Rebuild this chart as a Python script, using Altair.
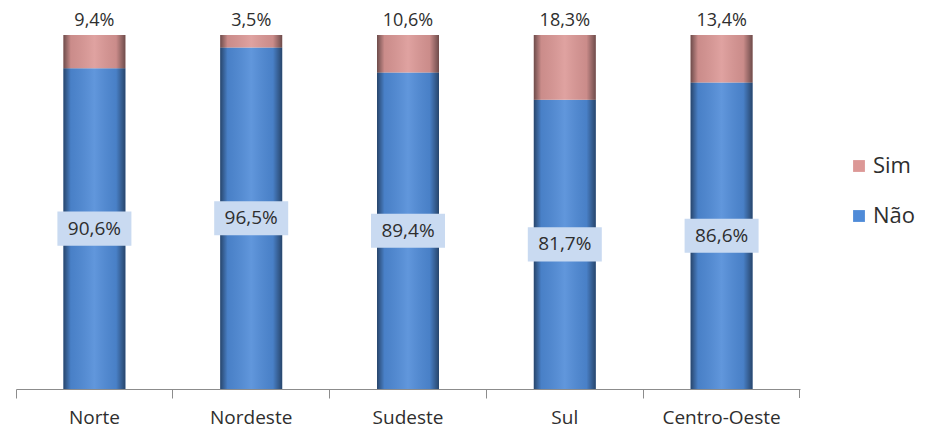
import altair as alt
import pandas as pd

regioes = ["Norte", "Nordeste", "Sudeste", "Sul", "Centro-Oeste"]
nao = [90.6, 96.5, 89.4, 81.7, 86.6]
sim = [9.4, 3.5, 10.6, 18.3, 13.4]
respostas = ["Sim", "Não"]
cores = ["#dc9896", "#4f8bd8"]

rows = []
for r, n, s in zip(regioes, nao, sim):
    rows.append({"regiao": r, "resposta": "Não", "valor": n, "ordem": 0,
                 "rotulo": f"{n:.1f}%".replace(".", ",")})
    rows.append({"regiao": r, "resposta": "Sim", "valor": s, "ordem": 1,
                 "rotulo": f"{s:.1f}%".replace(".", ",")})
df = pd.DataFrame(rows)

FONT = "Open Sans"
TXT = "#2e2e2e"

base = alt.Chart(df).transform_stack(
    stack="valor", groupby=["regiao"], sort=[alt.SortField("ordem")], as_=["y0", "y1"]
).transform_calculate(mid="(datum.y0 + datum.y1) / 2")

x = alt.X("regiao:N", sort=regioes, title=None,
          scale=alt.Scale(paddingInner=0, paddingOuter=0),
          axis=alt.Axis(labelAngle=0, labelFontSize=19, labelFont=FONT, labelColor=TXT,
                        domainColor="#8c8c8c", tickColor="#8c8c8c", tickSize=9,
                        labelPadding=10, bandPosition=0, domainWidth=1))
yscale = alt.Scale(domain=[0, 100], nice=False)

bars = base.mark_bar(size=62).encode(
    x=x,
    y=alt.Y("y0:Q", scale=yscale, axis=None),
    y2="y1:Q",
    color=alt.Color("resposta:N", scale=alt.Scale(domain=respostas, range=cores),
                    legend=alt.Legend(title=None, orient="none", legendX=832, legendY=120,
                                      labelFontSize=22, labelFont=FONT, labelColor=TXT,
                                      symbolType="square", symbolSize=140,
                                      symbolStrokeWidth=0, rowPadding=28,
                                      labelOffset=3, padding=0)),
)

shade = base.mark_bar(
    size=62,
    fill=alt.Gradient(
        gradient="linear", x1=0, x2=1, y1=0, y2=0,
        stops=[
            alt.GradientStop(color="rgba(0,0,0,0.5)", offset=0),
            alt.GradientStop(color="rgba(0,0,0,0.08)", offset=0.12),
            alt.GradientStop(color="rgba(255,255,255,0.1)", offset=0.5),
            alt.GradientStop(color="rgba(0,0,0,0.08)", offset=0.85),
            alt.GradientStop(color="rgba(0,0,0,0.5)", offset=1),
        ],
    ),
).encode(x=x, y=alt.Y("y0:Q", scale=yscale), y2="y1:Q")

top_label = base.transform_filter("datum.resposta == 'Sim'").mark_text(
    dy=-5, baseline="bottom", fontSize=18, font=FONT, color=TXT
).encode(x=x, y=alt.Y("y1:Q", scale=yscale), text="rotulo:N")

box = base.transform_filter("datum.resposta == 'Não'").mark_point(
    shape="M-1,-0.46L1,-0.46L1,0.46L-1,0.46Z", size=5476, filled=True,
    fill="#c9daf1", opacity=1, strokeWidth=0
).encode(x=x, y=alt.Y("mid:Q", scale=yscale))

mid_label = base.transform_filter("datum.resposta == 'Não'").mark_text(
    baseline="middle", fontSize=19, font=FONT, color=TXT
).encode(x=x, y=alt.Y("mid:Q", scale=yscale), text="rotulo:N")

end_tick = alt.Chart(pd.DataFrame({"a": [0]})).mark_rule(
    color="#8c8c8c", strokeWidth=1
).encode(x=alt.value(783.5), y=alt.value(354), y2=alt.value(363))

chart = alt.layer(bars, shade, box, mid_label, top_label, end_tick).properties(
    width=784, height=354,
    padding={"left": 8, "top": 27, "right": 118, "bottom": 42},
    autosize=alt.AutoSizeParams(type="none"),
    background="white",
).configure_view(stroke=None, strokeWidth=0)

chart.save("out.html", embed_options={"renderer": "svg", "actions": False})
